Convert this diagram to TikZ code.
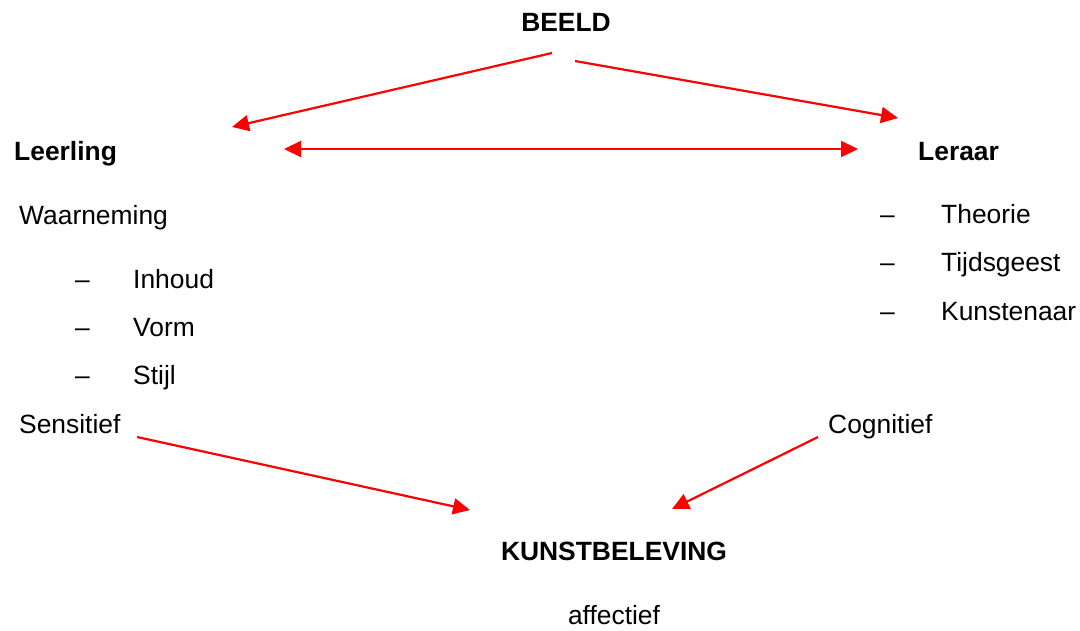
\documentclass[tikz,border=0pt]{standalone}
\usepackage{fontspec}
\setmainfont{Liberation Sans}
\usetikzlibrary{arrows.meta}
\begin{document}
\begin{tikzpicture}[x=1pt,y=-1pt,
  txt/.style={inner sep=0pt,font=\fontsize{26.4}{30}\selectfont},
  btxt/.style={txt,font=\fontsize{26.4}{30}\selectfont\bfseries},
  tip/.style={Triangle[length=17pt,width=16pt]},
  redarrow/.style={draw=red,line width=2.2pt,-{Triangle[length=17pt,width=16pt]}},
  redboth/.style={draw=red,line width=2.2pt,{Triangle[length=17pt,width=16pt]}-{Triangle[length=17pt,width=16pt]}}]
\useasboundingbox (0,0) rectangle (1080,630);
\fill[white] (0,0) rectangle (1080,630);
% nodes
\node[btxt,anchor=base] (beeld) at (566,31) {BEELD};
\node[btxt,anchor=base west] (leerling) at (14,160) {Leerling};
\node[btxt,anchor=base west] (leraar) at (918,160) {Leraar};
\node[txt,anchor=base west] (waar) at (19,224) {Waarneming};
\node[txt,anchor=base west] (d1) at (75,288) {–};
\node[txt,anchor=base west] (inhoud) at (133,288) {Inhoud};
\node[txt,anchor=base west] (d2) at (75,336) {–};
\node[txt,anchor=base west] (vorm) at (133,336) {Vorm};
\node[txt,anchor=base west] (d3) at (75,384) {–};
\node[txt,anchor=base west] (stijl) at (133,384) {Stijl};
\node[txt,anchor=base west] (d4) at (880,223) {–};
\node[txt,anchor=base west] (theorie) at (941,223) {Theorie};
\node[txt,anchor=base west] (d5) at (880,271) {–};
\node[txt,anchor=base west] (tijd) at (941,271) {Tijdsgeest};
\node[txt,anchor=base west] (d6) at (880,320) {–};
\node[txt,anchor=base west] (kunst) at (941,320) {Kunstenaar};
\node[txt,anchor=base west] (sens) at (19,433) {Sensitief};
\node[txt,anchor=base west] (cogn) at (828,433) {Cognitief};
\node[btxt,anchor=base] (kb) at (614,560) {KUNSTBELEVING};
\node[txt,anchor=base] (aff) at (614,624) {affectief};
% connector end points
\coordinate (b1) at (552,53);
\coordinate (b2) at (575,61);
\coordinate (l1) at (232,127);
\coordinate (r1) at (898,118);
\coordinate (l2) at (284,149);
\coordinate (r2) at (858,149);
\coordinate (s1) at (137,437);
\coordinate (c1) at (818,437);
\coordinate (k1) at (470,510);
\coordinate (k2) at (672,509);
% connectors
\draw[redarrow] (b1) -- (l1);
\draw[redarrow] (b2) -- (r1);
\draw[redboth] (l2) -- (r2);
\draw[redarrow] (s1) -- (k1);
\draw[redarrow] (c1) -- (k2);
\end{tikzpicture}
\end{document}
